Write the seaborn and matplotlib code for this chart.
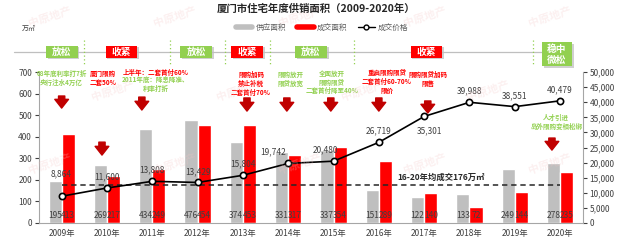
import numpy as np
import pandas as pd
import seaborn as sns
import matplotlib.pyplot as plt
from matplotlib.patches import Rectangle
from matplotlib.lines import Line2D

# data
years = ['2009年', '2010年', '2011年', '2012年', '2013年', '2014年',
         '2015年', '2016年', '2017年', '2018年', '2019年', '2020年']
supply = [195, 269, 434, 476, 374, 331, 337, 151, 122, 133, 249, 278]
sales = [413, 217, 249, 454, 453, 317, 354, 289, 140, 72, 144, 235]
price = [8864, 11600, 13808, 13429, 15804, 19742, 20480, 26719, 35301, 39988, 38551, 40479]
avg_sales = 176

policy_labels = ['放松', '收紧', '放松', '收紧', '放松', '收紧', '稳中\n微松']
policy_kinds = ['loose', 'tight', 'loose', 'tight', 'loose', 'tight', 'loose']

note_texts = [
    ['08年底利率打7折\n央行注水4万亿'],
    ['厦门限购\n二套50%'],
    ['上半年：二套首付60%', '2011年底：降息降准、\n利率打折'],
    ['限购加码\n禁止补税\n二套首付70%'],
    ['限购放开\n限贷放宽'],
    ['全面放开\n限购限贷\n二套首付降至40%'],
    ['重启限购限贷\n二套首付60-70%\n限价'],
    ['限购限贷加码\n限售'],
    ['人才引进\n岛外限购变相松绑'],
]
note_kinds = [['loose'], ['tight'], ['tight', 'loose'], ['tight'], ['loose'],
              ['loose'], ['tight'], ['tight'], ['loose']]

GREEN = '#92D050'
RED = '#FF0000'
DARKRED = '#C00000'
GRAY = '#BFBFBF'
TXT = '#404040'
kind_color = {'loose': GREEN, 'tight': RED}

sns.set_style('white')
plt.rcParams['font.family'] = ['Noto Sans CJK SC', 'DejaVu Sans']

fig = plt.figure(figsize=(6.25, 2.45), dpi=100)
ax = fig.add_axes([0.0624, 0.0898, 0.870, 0.616])

df = pd.DataFrame({
    'year': years * 2,
    'kind': ['供应面积'] * len(years) + ['成交面积'] * len(years),
    'area': supply + sales,
})
sns.barplot(data=df, x='year', y='area', hue='kind', palette=[GRAY, RED],
            width=0.58, saturation=1, legend=False, ax=ax, zorder=2)
ax.set_xlim(-0.5, 11.5)
ax.set_ylim(0, 700)
ax.set_yticks(range(0, 701, 100))
ax.set_xlabel('')
ax.set_ylabel('')
ax.tick_params(axis='y', labelsize=6, colors=TXT, length=3, width=0.8, pad=2)
ax.tick_params(axis='x', labelsize=6, colors=TXT, length=0, pad=4)
for s in ['top', 'right']:
    ax.spines[s].set_visible(False)
for s in ['left', 'bottom']:
    ax.spines[s].set_color('#A6A6A6')
    ax.spines[s].set_linewidth(0.8)

# value labels at the foot of each bar
for cont, vals in zip(ax.containers, [supply, sales]):
    for bar, v in zip(cont, vals):
        ax.text(bar.get_x() + bar.get_width() / 2, 37, str(v), ha='center',
                va='center', fontsize=6, color=TXT, zorder=5)

# average line
ax.plot([0, len(years) - 1], [avg_sales, avg_sales], color='#262626', lw=1.1,
        dashes=(3.5, 2.5), zorder=4)
ax.text(7.4, 212, '16-20年均成交176万㎡', fontsize=6, fontweight='bold',
        color='#262626', va='center', ha='left', zorder=5)

# price line on the right axis
ax2 = ax.twinx()
xs = np.arange(len(years))
sns.lineplot(x=xs, y=price, ax=ax2, color='black', lw=1.2, marker='o',
             markersize=4.5, markerfacecolor='white', markeredgecolor='black',
             markeredgewidth=1.2, zorder=6)
ax2.set_ylim(0, 50000)
ax2.set_yticks(range(0, 50001, 5000))
ax2.set_yticklabels([f'{t:,}' for t in range(0, 50001, 5000)])
ax2.tick_params(axis='y', labelsize=6, colors=TXT, length=3, width=0.8, pad=2)
for s in ['top', 'left', 'bottom']:
    ax2.spines[s].set_visible(False)
ax2.spines['right'].set_color('#A6A6A6')
ax2.spines['right'].set_linewidth(0.8)

price_offsets = [(0, 16), (0, 8), (0, 8), (0, 8), (0, 8), (-11, 8),
                 (-6, 8), (0, 8), (4, -10), (0, 8), (0, 8), (0, 8)]
for x, p, off in zip(xs, price, price_offsets):
    ax2.annotate(f'{p:,}', (x, p), xytext=off, textcoords='offset points',
                 ha='center', va='center', fontsize=6, color=TXT, zorder=7)

# policy band above the plot
ax.plot([-1.05, 11.08], [795, 795], color=GRAY, lw=0.9, clip_on=False)
for vx in [0.5, 2.4, 3.6, 4.6, 6.45, 10.4]:
    ax.plot([vx, vx], [850, 728], color=GREEN, lw=0.9, ls=(0, (1, 2)),
            clip_on=False)

box_x = [0.0, 1.32, 2.97, 4.09, 5.5, 8.05, 10.93]
for bx, lab, kind in zip(box_x, policy_labels, policy_kinds):
    h = 111 if '\n' in lab else 55
    w = 0.66 if '\n' in lab else 0.70
    y0 = (783 if '\n' in lab else 795) - h / 2
    ax.add_patch(Rectangle((bx - w / 2 + 0.04, y0 - 7), w, h, fc='#D0D0D0',
                           ec='none', clip_on=False, zorder=1))
    ax.add_patch(Rectangle((bx - w / 2, y0), w, h, fc=kind_color[kind],
                           ec='none', clip_on=False, zorder=2))
    ax.text(bx, y0 + h / 2, lab, ha='center', va='center', color='white',
            fontsize=7, fontweight='bold', linespacing=1.1, zorder=3)

# policy notes and arrows
note_pos = [(0.0, 672), (0.91, 672), (2.08, 663), (4.18, 649), (5.06, 670),
            (5.96, 654), (7.18, 658), (8.08, 668), (10.91, 470)]
NOTE_FS = 4.7
for (nx, ny), parts, kinds in zip(note_pos, note_texts, note_kinds):
    if len(parts) == 1:
        ax.text(nx, ny, parts[0], ha='center', va='center', fontsize=NOTE_FS,
                fontweight='bold', color=kind_color[kinds[0]],
                linespacing=1.3, clip_on=False)
    else:
        ax.text(nx, ny + 37, parts[0], ha='center', va='center',
                fontsize=NOTE_FS, fontweight='bold',
                color=kind_color[kinds[0]], clip_on=False)
        ax.text(nx, ny - 18, parts[1], ha='center', va='center',
                fontsize=NOTE_FS, fontweight='bold',
                color=kind_color[kinds[1]], linespacing=1.3, clip_on=False)

arrow_pos = [(0.0, 589, 533), (0.89, 375, 315), (1.77, 584, 524),
             (4.09, 580, 519), (4.97, 580, 519), (5.94, 580, 519),
             (7.0, 580, 519), (8.08, 566, 510), (10.82, 394, 338)]
for axx, ytop, ybot in arrow_pos:
    ax.annotate('', xy=(axx, ybot), xytext=(axx, ytop),
                arrowprops=dict(arrowstyle='simple,head_width=1.1,head_length=0.7,tail_width=0.5',
                                color=DARKRED, mutation_scale=9, shrinkA=0, shrinkB=0),
                zorder=6)

# title, legend, unit
fig.text(0.505, 0.965, '厦门市住宅年度供销面积（2009-2020年）', ha='center',
         va='center', fontsize=7.5, fontweight='bold', color='#262626')
fig.text(0.035, 0.882, '万㎡', fontsize=5, color=TXT, va='center')
handles = [Line2D([], [], color=GRAY, lw=4),
           Line2D([], [], color=RED, lw=4),
           Line2D([], [], color='black', lw=1, marker='o', markersize=3.5,
                  markerfacecolor='white', markeredgewidth=1)]
leg = fig.legend(handles, ['供应面积', '成交面积', '成交价格'], ncol=3,
                 loc='center', bbox_to_anchor=(0.515, 0.886), frameon=False,
                 fontsize=5.5, handlelength=2.2, columnspacing=1.4,
                 handletextpad=0.4)
for t in leg.get_texts():
    t.set_color('#595959')

# faint watermark
for i, wy in enumerate([0.93, 0.63, 0.33]):
    for wx in np.arange(0.08 + (i % 2) * 0.1, 0.95, 0.2):
        fig.text(wx, wy, '中原地产', fontsize=8, fontweight='bold',
                 color='#F3C4C4', alpha=0.25, rotation=18, ha='center',
                 va='center', zorder=0)

fig.savefig('out.png', dpi=100)
